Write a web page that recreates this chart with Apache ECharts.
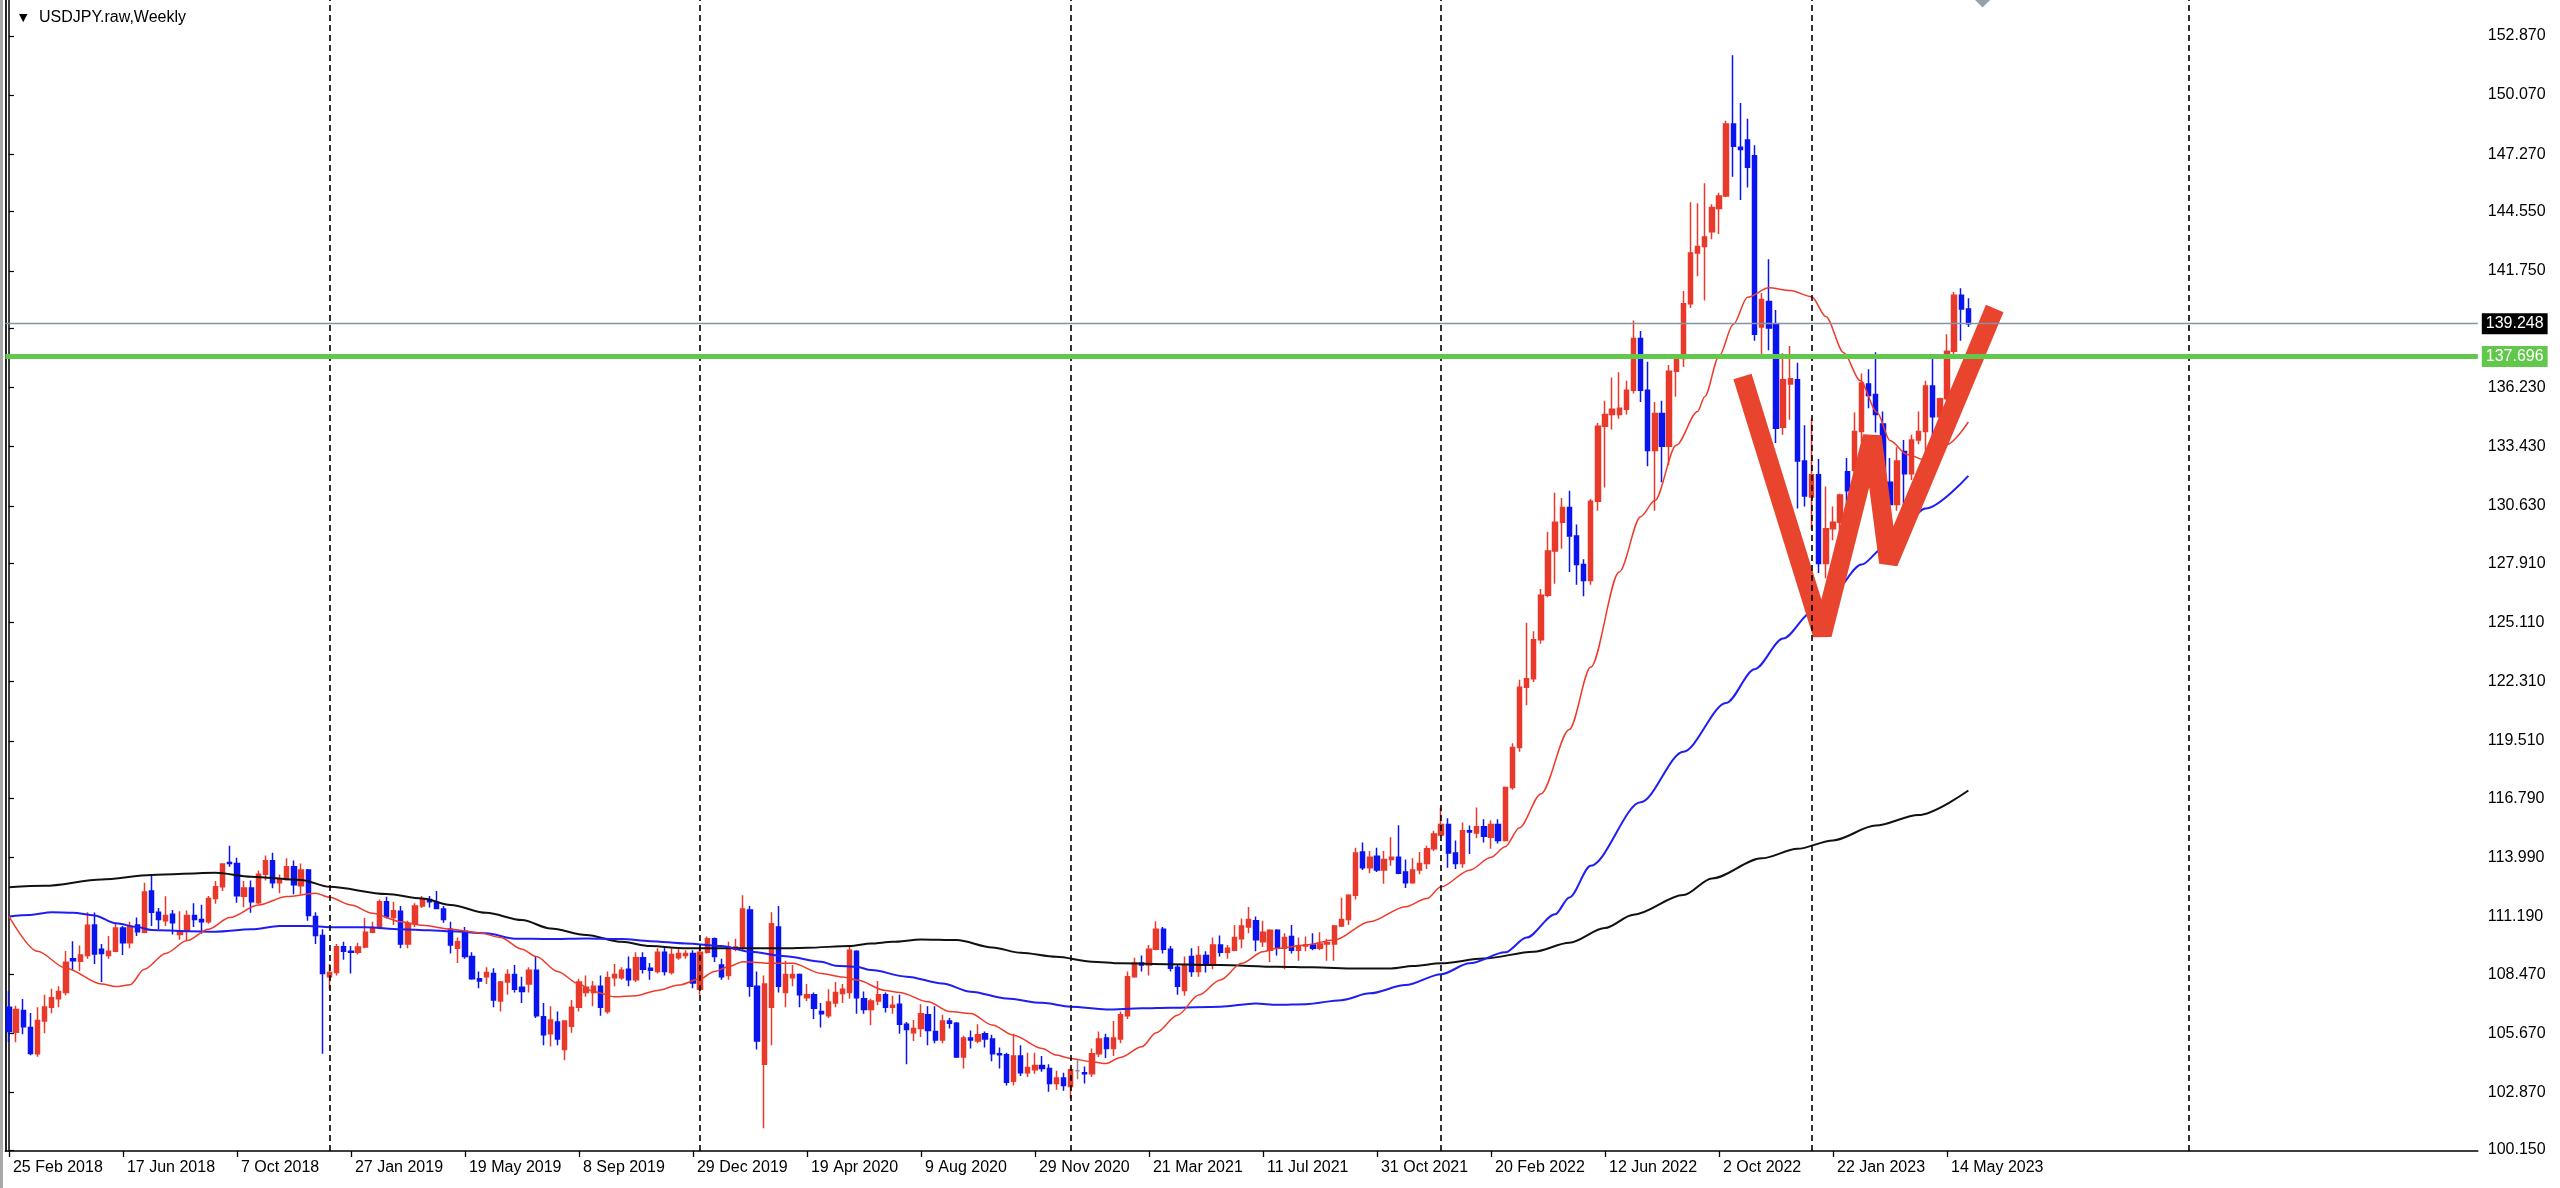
<!DOCTYPE html>
<html><head><meta charset="utf-8">
<script src="https://cdn.jsdelivr.net/npm/echarts@6/dist/echarts.min.js"></script>
<style>html,body{margin:0;padding:0;background:#fff}#c{width:2560px;height:1188px}</style>
</head><body><div id="c"></div><script>
// ---------- data ----------
const START_UTC = Date.UTC(2018, 1, 25);   // first weekly bar (Sunday)
const N_SLOTS = 347;                       // weekly slots on the time axis (incl. empty right margin)
const LABEL_STEP = 16;                     // a date label every 16 bars
const MONTHS = ['Jan','Feb','Mar','Apr','May','Jun','Jul','Aug','Sep','Oct','Nov','Dec'];
const YEAR_LINES = [45, 97, 149, 201, 253, 306];   // first bar of 2019..2024
const Y_TICKS = [152.870,150.070,147.270,144.550,141.750,139.030,136.230,133.430,130.630,127.910,
                 125.110,122.310,119.510,116.790,113.990,111.190,108.470,105.670,102.870,100.150];
const BID = 139.248;
const LEVEL = 137.696;

// weekly bars: [open, high, low, close]
const OHLC = [
// 2018
[106.90,107.67,105.25,105.75],[105.72,106.97,105.25,106.80],[106.75,107.29,105.62,105.98],[105.95,106.63,104.63,104.72],
[104.70,106.90,104.56,106.28],[106.25,107.49,105.67,106.92],[106.90,107.78,106.62,107.35],[107.30,107.90,106.90,107.65],
[107.60,109.57,107.47,109.03],[109.20,110.03,108.65,109.10],[109.08,109.83,108.62,109.38],[109.35,111.40,109.20,110.78],
[110.80,111.39,108.95,109.42],[109.65,109.90,108.10,109.45],[109.35,110.27,109.20,109.55],[109.55,110.90,109.50,110.65],
[110.65,110.75,109.37,109.95],[109.95,110.95,109.70,110.72],[110.80,111.15,110.27,110.47],[110.45,112.80,110.40,112.36],
[112.40,113.17,110.75,111.40],[111.40,111.60,110.60,111.05],[111.00,112.15,110.75,111.25],[111.30,111.50,110.35,110.90],
[110.35,111.45,110.10,110.50],[110.55,111.48,110.05,111.25],[111.25,111.83,110.70,111.05],[111.05,111.75,110.38,110.95],
[110.95,112.17,110.85,112.05],[112.05,112.88,111.80,112.60],[112.60,113.70,112.40,113.68],[113.75,114.55,113.55,113.70],
[113.70,113.98,111.85,112.18],[112.15,112.88,111.63,112.55],[112.55,112.90,111.38,111.90],[111.85,113.38,111.78,113.20],
[113.20,114.08,112.90,113.83],[113.83,114.22,112.53,112.80],[112.80,113.18,112.30,112.95],[112.95,113.95,112.90,113.55],
[113.55,113.85,112.25,112.70],[112.65,113.70,112.25,113.40],[113.40,113.45,111.00,111.25],[111.20,111.40,109.90,110.30],
[110.30,110.60,104.70,108.50],
// 2019
[108.35,108.95,107.75,108.55],[108.55,109.90,108.40,109.77],[109.77,110.00,109.15,109.55],[109.55,109.80,108.50,109.50],
[109.50,109.95,109.40,109.75],[109.75,111.13,109.70,110.45],[110.45,110.95,110.40,110.68],[110.65,112.00,110.60,111.90],
[111.90,112.13,111.10,111.18],[111.15,111.90,110.80,111.47],[111.45,111.70,109.70,109.90],[109.90,111.00,109.70,110.85],
[110.85,111.83,110.70,111.70],[111.70,112.17,111.60,112.02],[112.00,112.17,111.62,111.90],[111.85,112.40,111.55,111.58],
[111.55,111.70,110.90,111.05],[110.60,110.95,109.45,109.85],[109.70,110.20,109.00,110.00],[110.50,110.70,109.20,109.30],
[109.30,109.50,108.20,108.25],[108.25,108.60,107.80,108.15],[108.35,108.80,108.00,108.55],[108.50,108.75,106.90,107.25],
[107.20,108.15,106.70,108.10],[108.10,108.70,107.50,108.45],[108.45,108.90,107.60,107.75],[107.85,108.35,107.10,107.65],
[108.00,108.80,107.60,108.65],[108.65,109.30,106.40,106.50],[106.45,107.10,105.10,105.60],[105.65,106.95,105.05,106.30],
[106.20,106.70,105.10,105.40],[104.90,106.25,104.40,106.25],[106.00,107.25,105.70,106.90],[106.90,108.25,106.70,108.10],
[107.60,108.40,107.40,107.85],[107.60,108.15,106.95,107.90],[107.90,108.40,106.50,106.90],[106.70,108.60,106.60,108.30],
[108.30,108.95,107.90,108.45],[108.30,108.80,108.20,108.65],[108.70,109.30,107.90,108.20],[108.20,109.50,108.10,109.25],
[109.25,109.50,108.50,108.70],[108.75,109.00,108.20,108.65],[108.60,109.70,108.50,109.50],[109.50,109.75,108.40,108.60],
[108.55,109.70,108.45,109.40],[109.25,109.70,109.15,109.45],[109.35,109.60,109.20,109.45],[109.45,109.60,107.80,108.05],
// 2020
[107.75,109.75,107.50,109.50],[109.50,110.25,109.45,110.15],[110.15,110.20,109.05,109.30],[108.90,109.20,108.20,108.35],
[108.40,110.00,108.20,109.75],[109.65,110.15,109.55,109.75],[109.75,112.20,109.60,111.55],[111.50,111.70,107.40,107.90],
[107.90,108.60,104.90,105.30],[104.20,108.40,101.18,108.00],[106.90,111.40,105.10,110.85],[110.70,111.70,107.60,107.90],
[107.60,109.10,106.90,108.45],[108.30,108.90,107.90,108.45],[108.45,108.50,106.90,107.50],[107.35,108.00,107.20,107.50],
[107.50,107.60,106.35,106.85],[106.70,107.10,105.95,106.60],[106.50,107.75,106.40,107.15],[107.10,108.10,106.90,107.60],
[107.55,108.00,107.10,107.75],[107.60,109.85,107.30,109.60],[109.55,109.60,106.60,107.35],[107.30,107.65,106.60,106.80],
[106.80,107.30,106.05,107.20],[107.20,108.15,107.00,107.50],[107.50,107.60,106.65,106.90],[106.90,107.45,106.60,107.00],
[107.05,107.50,105.65,106.10],[106.10,106.20,104.20,105.85],[105.70,106.30,105.30,105.90],[105.90,107.05,105.50,106.60],
[106.55,106.95,105.10,105.80],[105.75,106.95,105.20,105.35],[105.35,106.55,105.20,106.25],[106.25,106.40,105.90,106.15],
[106.15,106.20,104.50,104.55],[104.55,105.55,104.00,105.45],[105.45,105.80,104.95,105.35],[105.30,106.10,105.20,105.60],
[105.65,105.75,105.00,105.40],[105.40,105.60,104.35,104.70],[104.70,105.00,104.00,104.65],[104.65,104.75,103.20,103.35],
[103.40,105.65,103.20,104.60],[104.60,105.10,103.65,103.80],[103.80,104.75,103.60,104.05],[103.95,104.75,103.75,104.15],
[104.15,104.60,103.85,104.00],[104.00,104.20,102.90,103.30],[103.30,103.90,103.00,103.55],[103.55,103.80,102.95,103.20],
// 2021
[103.15,104.05,102.60,103.95],[103.90,104.40,103.50,103.90],[103.80,104.10,103.30,103.75],[103.75,104.95,103.60,104.70],
[104.70,105.75,104.55,105.40],[105.45,105.65,104.50,104.95],[104.95,106.25,104.60,105.45],[105.40,106.70,105.20,106.55],
[106.50,108.60,106.35,108.35],[108.35,109.25,108.30,109.00],[109.00,109.35,108.60,108.90],[108.90,109.85,108.40,109.65],
[109.65,110.97,109.60,110.60],[110.60,110.70,109.45,109.65],[109.65,109.80,108.60,108.75],[108.80,108.90,107.50,107.90],
[107.70,109.30,107.45,108.90],[109.30,109.70,108.35,108.60],[108.60,109.80,108.35,109.35],[109.35,109.55,108.55,108.95],
[108.95,110.20,108.70,109.85],[109.85,110.30,109.30,109.50],[109.50,109.85,109.20,109.70],[109.60,110.80,109.55,110.20],
[110.15,111.10,109.70,110.75],[110.70,111.65,110.40,111.05],[111.00,111.20,109.55,110.10],[110.00,111.00,109.75,110.45],
[109.60,110.60,109.05,110.55],[110.55,110.60,109.35,109.70],[109.70,110.40,108.70,110.20],[110.25,110.80,109.45,109.60],
[109.60,110.20,109.10,109.80],[109.80,110.25,109.55,109.85],[109.85,110.40,109.60,109.70],[109.70,110.45,109.60,109.90],
[109.90,110.15,109.10,109.95],[109.90,110.80,109.10,110.75],[110.75,112.08,110.70,111.05],[111.05,112.25,110.80,112.20],
[112.20,114.45,112.00,114.20],[114.25,114.70,113.40,113.50],[113.50,114.30,113.25,114.00],[114.05,114.45,113.30,113.40],
[113.40,114.30,112.75,113.90],[113.90,114.95,113.60,114.00],[114.00,115.52,113.20,113.25],[113.30,113.90,112.55,112.80],
[112.80,113.95,112.75,113.40],[113.40,114.25,113.20,113.70],[113.70,114.55,113.45,114.40],[114.40,115.25,114.30,115.10],
// 2022
[115.05,116.35,115.00,115.55],[115.55,115.85,113.50,114.20],[114.20,114.80,113.45,113.70],[113.70,115.65,113.50,115.25],
[115.25,115.50,114.15,115.20],[115.15,116.35,114.90,115.45],[115.45,115.80,114.70,115.00],[114.95,115.75,114.40,115.55],
[115.55,115.80,114.65,114.80],[114.80,117.35,114.75,117.30],[117.30,119.40,117.20,119.20],[119.20,122.40,119.00,122.05],
[122.05,125.10,121.20,122.45],[122.45,124.70,122.30,124.30],[124.30,126.70,124.10,126.40],[126.40,129.40,126.30,128.50],
[128.50,131.25,126.95,129.85],[129.85,131.00,128.60,130.55],[130.55,131.35,127.50,129.20],[129.20,129.75,126.90,127.85],
[127.85,128.10,126.35,127.10],[127.10,130.95,126.90,130.85],[130.85,134.55,130.40,134.40],[134.40,135.60,131.50,134.95],
[134.95,136.70,134.25,135.20],[134.95,136.95,134.75,135.25],[135.20,136.55,134.95,136.10],[136.10,139.40,135.95,138.55],
[138.55,138.90,135.55,136.10],[136.10,137.45,132.50,133.25],[133.25,135.55,130.40,135.00],[135.00,135.60,131.75,133.45],
[133.45,137.30,132.55,137.00],[137.00,137.70,135.80,137.60],[137.60,140.80,137.20,140.20],[140.20,145.00,140.00,142.60],
[142.60,144.95,141.50,142.90],[142.90,145.90,140.35,143.35],[143.60,144.90,143.25,144.75],[144.70,145.45,143.50,145.30],
[145.30,148.85,145.25,148.70],[148.70,151.95,146.20,147.65],[147.60,149.70,145.10,147.50],[147.95,148.95,145.70,146.65],
[147.20,147.70,138.45,138.75],[139.10,140.70,137.70,140.40],[140.30,142.30,138.00,139.05],[139.25,139.90,133.60,134.30],
[134.35,137.85,134.00,136.60],[136.40,138.20,134.70,136.65],[136.60,137.40,130.50,132.75],[132.75,134.45,130.60,131.10],
// 2023
[131.05,134.75,129.50,132.10],[132.10,132.85,127.45,127.90],[127.90,131.55,127.20,129.55],[129.55,130.60,129.00,129.85],
[129.85,131.20,128.10,131.15],[132.25,132.90,130.50,131.35],[132.30,135.05,131.50,134.15],[134.15,136.90,133.65,136.45],
[136.40,137.10,135.25,135.85],[135.90,137.90,134.10,134.95],[134.50,135.10,131.30,131.80],[131.75,132.90,129.65,130.70],
[130.70,133.40,130.40,132.75],[133.20,133.75,130.60,132.15],[132.15,134.00,131.85,133.75],[133.75,135.10,133.55,134.15],
[134.15,136.55,133.00,136.30],[136.30,137.80,133.50,134.85],[134.85,135.75,133.75,135.70],[135.70,138.75,135.60,137.95],
[137.95,140.75,137.60,140.60],[140.60,140.93,138.45,139.95],[139.95,140.45,139.10,139.25]
];

// moving averages: [bar index, price]
const MA_RED = [[0,111.2],[4,109.55],[8,108.75],[13,108.0],[15,107.88],[17,107.97],[19,108.7],[22,109.45],[25,110.06],
[28,110.6],[31,111.15],[35,111.74],[39,112.14],[43,112.3],[45,112.11],[48,111.74],[51,111.35],[55,110.95],[58,110.78],
[62,110.6],[66,110.43],[69,110.2],[72,109.65],[74,109.3],[77,108.6],[80,108.0],[82,107.65],[85,107.4],[88,107.45],
[91,107.7],[94,107.95],[97,108.25],[99,108.6],[101,108.82],[103,109.06],[107,108.98],[110,108.98],[114,108.5],
[117,108.33],[119,108.19],[123,107.7],[125,107.6],[129,107.16],[132,106.7],[135,106.61],[138,106.06],[141,105.58],
[145,104.95],[147,104.64],[149,104.48],[152,104.32],[154,104.24],[156,104.53],[159,105.03],[161,105.7],[164,106.53],
[167,107.48],[170,108.19],[173,108.98],[176,109.53],[178,109.69],[182,109.85],[186,110.08],[191,110.95],[196,111.66],
[199,112.05],[201,112.6],[205,113.39],[208,114.0],[210,114.5],[212,115.4],[215,117.0],[219,120.05],[222,123.0],
[226,127.5],[229,130.12],[231,130.88],[234,133.5],[237,135.1],[238,135.8],[240,137.7],[242,139.21],[244,140.5],
[247,140.95],[250,140.82],[253,140.53],[255,139.59],[257.5,137.88],[259.8,136.56],[262.2,135.05],[264,133.72],
[266.4,133.06],[269.2,132.77],[272,133.53],[275,134.6]];
const MA_BLUE = [[0,111.2],[3,111.27],[6,111.4],[9,111.38],[12,111.25],[15,110.88],[18,110.7],[20,110.56],[25,110.5],
[29,110.48],[34,110.59],[38,110.75],[42,110.75],[45,110.69],[50,110.69],[55,110.6],[59,110.55],[62,110.5],[67,110.4],
[71,110.15],[76,110.13],[81,110.16],[86,110.13],[90,110.03],[95,109.92],[100,109.8],[104,109.53],[109,109.32],
[114,109.06],[116,108.87],[119,108.82],[121,108.66],[126,108.35],[131,108.03],[135,107.64],[140,107.32],[145,107.11],
[149,106.93],[154,106.8],[159,106.85],[163,106.88],[170,106.93],[175,107.08],[178,107.02],[182,107.05],[187,107.24],
[191,107.56],[196,107.95],[201,108.47],[205,108.98],[210,109.5],[213,110.2],[217,111.3],[219,112.1],[222,113.6],
[229,116.6],[235,119.0],[241,121.3],[245,122.9],[249,124.35],[253,125.58],[256,126.53],[260,127.85],[263,128.61],
[265,129.37],[269,130.5],[275,132.05]];
const MA_BLACK = [[0,112.58],[5,112.65],[13,112.95],[20,113.16],[29,113.27],[34,113.08],[41,112.93],[45,112.6],
[53,112.26],[58,112.05],[62,111.74],[67,111.37],[72,111.03],[76,110.63],[81,110.32],[86,110.0],[90,109.8],[95,109.69],
[100,109.69],[105,109.69],[109,109.69],[112,109.72],[118,109.8],[121,109.92],[124,110.0],[128,110.11],[133,110.08],
[138,109.73],[142,109.48],[147,109.29],[152,109.06],[156,108.98],[163,108.94],[170,108.9],[178,108.82],[183,108.79],
[189,108.74],[194,108.74],[197,108.85],[201,108.98],[207,109.21],[214,109.53],[219,109.96],[224,110.65],[228,111.28],
[235,112.21],[239,113.0],[246,113.95],[251,114.4],[256,114.8],[262,115.5],[268,116.0],[275,117.16]];

// hand-drawn "W" (bar index, price)
const W_PATH = [[243.3,136.75],[254.5,124.54],[261.5,133.91],[263.8,127.95],[278.7,139.97]];
// chart-shift marker at top
const SHIFT_MARK = [[277, 154.43]];

// ---------- build ----------
const CATEGORIES = [];
for (let i = 0; i < N_SLOTS; i++) {
  const d = new Date(START_UTC + i * 7 * 86400000);
  CATEGORIES.push(d.getUTCDate() + ' ' + MONTHS[d.getUTCMonth()] + ' ' + d.getUTCFullYear());
}
const LAST_BAR = OHLC.length - 1;
const showTick = (i) => i % LABEL_STEP === 0 && i <= LAST_BAR;

const FONT = "'Liberation Sans', Arial, sans-serif";
const UP = '#E8392A', DOWN = '#0A14EE';
const candleData = OHLC.map(([o, h, l, c]) => {
  const item = { value: [o, c, l, h] };
  if (o === c) item.itemStyle = { color: '#8a8a8a', borderColor: '#8a8a8a', borderColorDoji: '#8a8a8a' };
  return item;
});

const Y_MIN = 100.10, Y_MAX = 154.57;

const chart = echarts.init(document.getElementById('c'), null, { renderer: 'canvas' });
chart.setOption({
  animation: false,
  backgroundColor: '#ffffff',
  title: [
    { text: '▼', left: 14, top: 8, textStyle: { fontSize: 11, color: '#000', fontWeight: 'normal', fontFamily: 'DejaVu Sans' } },
    { text: 'USDJPY.raw,Weekly', left: 34, top: 5, textStyle: { fontSize: 16, color: '#000', fontWeight: 'normal', fontFamily: FONT } }
  ],
  graphic: [
    { type: 'rect', left: 0, top: 0, shape: { width: 3, height: 1188 }, style: { fill: '#a8a8a8' }, silent: true }
  ],
  grid: { left: 5.4, right: 82.2, top: 0, bottom: 37, containLabel: false },
  xAxis: [
    {
      type: 'category', data: CATEGORIES, boundaryGap: true,
      axisLine: { show: true, lineStyle: { color: '#000', width: 1.5 } },
      axisTick: { show: true, alignWithLabel: true, interval: (i) => showTick(i), length: 6, lineStyle: { color: '#000', width: 1.3 } },
      axisLabel: { interval: (i) => showTick(i), align: 'left', padding: [0, 0, 0, 4], margin: 9,
                   fontSize: 16, fontFamily: FONT, color: '#000' },
      splitLine: { show: false }
    },
    { type: 'value', min: -0.5, max: N_SLOTS - 0.5, show: false }
  ],
  yAxis: [
    {
      type: 'value', position: 'right', min: Y_MIN, max: Y_MAX, scale: true,
      axisLine: { show: true, lineStyle: { color: '#000', width: 1.5 } },
      axisTick: { show: true, length: 5, customValues: Y_TICKS, lineStyle: { color: '#000', width: 1.2 } },
      axisLabel: { customValues: Y_TICKS, formatter: (v) => v.toFixed(3), margin: 10, fontSize: 16, fontFamily: FONT, color: '#000' },
      splitLine: { show: false }
    },
    {
      type: 'value', position: 'left', min: Y_MIN, max: Y_MAX,
      axisLine: { show: true, lineStyle: { color: '#222', width: 2 } },
      axisTick: { show: false }, axisLabel: { show: false }, splitLine: { show: false }
    }
  ],
  series: [
    {
      name: 'levels', type: 'line', xAxisIndex: 1, yAxisIndex: 0, data: [], z: 1, silent: true,
      markLine: {
        silent: true, symbol: ['none', 'none'], animation: false,
        data: [
          ...YEAR_LINES.map((i) => ({ xAxis: i, lineStyle: { color: '#000', width: 1.6, type: [6, 4] }, label: { show: false } })),
          { yAxis: BID, lineStyle: { color: '#8494A6', width: 1.4, type: 'solid' },
            label: { show: true, position: 'end', distance: 4, formatter: BID.toFixed(3), color: '#fff', backgroundColor: '#000',
                     padding: [3, 4, 2, 4], fontSize: 16, fontFamily: FONT } },
          { yAxis: LEVEL, lineStyle: { color: '#62C84C', width: 5, type: 'solid' },
            label: { show: true, position: 'end', distance: 4, formatter: LEVEL.toFixed(3), color: '#fff', backgroundColor: '#62C84C',
                     padding: [3, 4, 2, 4], fontSize: 16, fontFamily: FONT } }
        ]
      }
    },
    {
      name: 'USDJPY', type: 'candlestick', xAxisIndex: 0, yAxisIndex: 0, z: 2,
      barWidth: 4.8, data: candleData,
      itemStyle: { color: UP, color0: DOWN, borderColor: UP, borderColor0: DOWN, borderColorDoji: '#8a8a8a', borderWidth: 1.5 }
    },
    { name: 'MA black', type: 'line', xAxisIndex: 1, yAxisIndex: 0, z: 3, data: MA_BLACK, showSymbol: false,
      smooth: 0.3, smoothMonotone: 'x', lineStyle: { color: '#111', width: 2 } },
    { name: 'MA blue', type: 'line', xAxisIndex: 1, yAxisIndex: 0, z: 3, data: MA_BLUE, showSymbol: false,
      smooth: 0.3, smoothMonotone: 'x', lineStyle: { color: '#1E1EF2', width: 2 } },
    { name: 'MA red', type: 'line', xAxisIndex: 1, yAxisIndex: 0, z: 3, data: MA_RED, showSymbol: false,
      smooth: 0.3, smoothMonotone: 'x', lineStyle: { color: '#EE3A2A', width: 1.5 } },
    { name: 'W', type: 'line', xAxisIndex: 1, yAxisIndex: 0, z: 4, data: W_PATH, showSymbol: false, clip: false,
      lineStyle: { color: '#E8442E', width: 19, cap: 'butt', join: 'bevel' } },
    { name: 'shift', type: 'scatter', xAxisIndex: 1, yAxisIndex: 0, z: 5, data: SHIFT_MARK, clip: false,
      symbol: 'triangle', symbolRotate: 180, symbolSize: [18, 9], itemStyle: { color: '#7B8898' } }
  ]
});
</script></body></html>
